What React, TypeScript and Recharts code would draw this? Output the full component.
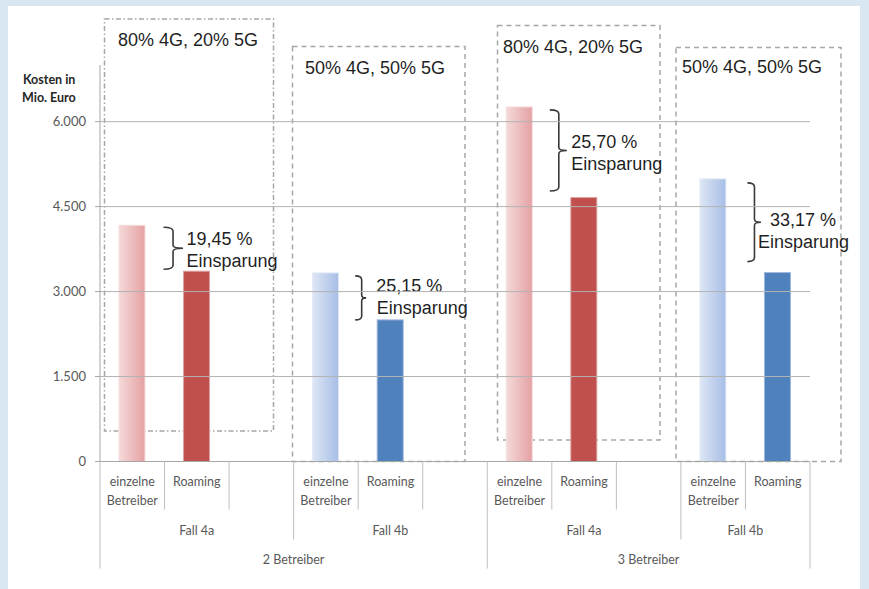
import { BarChart, Bar, XAxis, YAxis, ReferenceLine } from 'recharts';

// slot labels along the x axis (empty slots are spacers between cases)
const categories = [
  'einzelne Betreiber', 'Roaming', '',
  'einzelne Betreiber', 'Roaming', '',
  'einzelne Betreiber', 'Roaming', '',
  'einzelne Betreiber', 'Roaming',
];
// Kosten in Mio. Euro
const costs = [4170, 3360, null, 3330, 2500, null, 6260, 4660, null, 4990, 3335];
const savings = [null, '19,45 %', null, null, '25,15 %', null, null, '25,70 %', null, null, '33,17 %'];

const cases = ['Fall 4a', 'Fall 4b', 'Fall 4a', 'Fall 4b'];
const caseSizes = [3, 3, 3, 2];
const operators = ['2 Betreiber', '3 Betreiber'];
const operatorSizes = [6, 5];
const scenarios = ['80% 4G, 20% 5G', '50% 4G, 50% 5G', '80% 4G, 20% 5G', '50% 4G, 50% 5G'];
const yTicks = [0, 1500, 3000, 4500, 6000];

const W = 869;
const H = 589;
const PLOT_LEFT = 100;
const PLOT_RIGHT = 810;
const PLOT_TOP = 65;
const PLOT_BOTTOM = 461.5;
const X_AXIS_H = 110;
const SLOT = (PLOT_RIGHT - PLOT_LEFT) / categories.length;

const AXIS_FONT = 'Lato, "Open Sans", sans-serif';
const NOTE_FONT = '"Liberation Sans", Arial, sans-serif';

const starts = (sizes: number[]) => sizes.map((_, i) => sizes.slice(0, i).reduce((a, b) => a + b, 0));
const caseStarts = starts(caseSizes);
const operatorStarts = starts(operatorSizes);
const caseOf = (slot: number) => {
  let c = 0;
  caseStarts.forEach((s, i) => { if (slot >= s) c = i; });
  return c;
};

const data = categories.map((slot, i) => ({
  slot,
  idx: i,
  value: costs[i],
  saving: savings[i],
}));

// brace placement next to each Roaming bar (px, relative to the bar's left edge)
const braceLayout: Record<number, { left: number; vert: number; tip: number; topPad: number; botPad: number; t1: number; t2: number; dy: number }> = {
  1: { left: -20, vert: -10.5, tip: -0.5, topPad: 2, botPad: -2, t1: 3, t2: 3, dy: -10 },
  4: { left: -22, vert: -15.5, tip: -11, topPad: 3, botPad: 0, t1: -1, t2: -0.5, dy: -12.5 },
  7: { left: -21, vert: -12, tip: -4, topPad: 3, botPad: -6.5, t1: 0.5, t2: 0.5, dy: -8.5 },
  10: { left: -17, vert: -10, tip: -3.5, topPad: 4, botPad: -11, t1: 5.5, t2: -6.5, dy: -2.5 },
};

// scenario boxes (annotation frames drawn behind the chart)
const boxLayout = [
  { x1: 104.5, x2: 273.5, y1: 19, y2: 431, dash: '5 2.5 1.5 2.5', tx: 118, ty: 46 },
  { x1: 292.5, x2: 465, y1: 46.5, y2: 461.5, dash: '5 4', tx: 305, ty: 74 },
  { x1: 497.5, x2: 660, y1: 25.5, y2: 440, dash: '5 4', tx: 503, ty: 53 },
  { x1: 676, x2: 841, y1: 47.5, y2: 461.5, dash: '5 4', tx: 682, ty: 73 },
];

function CostBar(props: any) {
  const { x, y, width, height, payload } = props;
  if (payload == null || payload.value == null) return null;
  const i = payload.idx;
  const single = categories[i].startsWith('einzelne');
  const red = caseOf(i) % 2 === 0;
  const fill = single ? (red ? 'url(#gradRed)' : 'url(#gradBlue)') : red ? '#c0504d' : '#4f81bd';
  const stroke = single ? (red ? '#f5dede' : '#e3eaf6') : red ? '#dca3a2' : '#9db6dc';

  let brace = null;
  if (payload.saving && braceLayout[i]) {
    const b = braceLayout[i];
    const perUnit = height / payload.value;
    const prevTop = y + height - (costs[i - 1] as number) * perUnit;
    const yt = prevTop + b.topPad;
    const yb = y + b.botPad;
    const ym = (yt + yb) / 2;
    const x0 = x + b.left;
    const xv = x + b.vert;
    const xt = x + b.tip;
    const d = `M${x0},${yt} Q${xv},${yt} ${xv},${yt + 4} L${xv},${ym - 3} Q${xv},${ym} ${xt},${ym} Q${xv},${ym} ${xv},${ym + 3} L${xv},${yb - 4} Q${xv},${yb} ${x0},${yb}`;
    brace = (
      <g>
        <path d={d} fill="none" stroke="#3a3a3a" strokeWidth={1.6} />
        <text x={x + b.t1} y={ym + b.dy + 6.5} fontFamily={NOTE_FONT} fontSize={18} fill="#1f1f1f">
          {payload.saving}
        </text>
        <text x={x + b.t2} y={ym + b.dy + 28.5} fontFamily={NOTE_FONT} fontSize={18} fill="#1f1f1f">
          Einsparung
        </text>
      </g>
    );
  }

  return (
    <g>
      <rect x={x} y={y} width={width} height={height} fill={fill} stroke={stroke} strokeWidth={1} />
      {brace}
    </g>
  );
}

function SlotTick(props: any) {
  const { x, y, index } = props;
  const label: string = categories[index] ?? '';
  const left = x - SLOT / 2;
  const opIdx = operatorStarts.indexOf(index);
  const caseIdx = caseStarts.indexOf(index);
  const depth = opIdx >= 0 ? 107 : caseIdx >= 0 ? 78 : 48;
  const lines = label ? label.split(' ') : [];
  const isLast = index === categories.length - 1;
  return (
    <g>
      <line x1={left} x2={left} y1={y} y2={y + depth} stroke="#bfbfbf" strokeWidth={1} />
      {isLast && <line x1={left + SLOT} x2={left + SLOT} y1={y} y2={y + 107} stroke="#bfbfbf" strokeWidth={1} />}
      {lines.map((w, k) => (
        <text key={k} x={x} y={y + 24.5 + k * 18.5} textAnchor="middle" fontFamily={AXIS_FONT} fontSize={12.5} fill="#595959">
          {w}
        </text>
      ))}
      {caseIdx >= 0 && (
        <text x={left + (caseSizes[caseIdx] * SLOT) / 2} y={y + 73} textAnchor="middle" fontFamily={AXIS_FONT} fontSize={12.5} fill="#595959">
          {cases[caseIdx]}
        </text>
      )}
      {opIdx >= 0 && (
        <text x={left + (operatorSizes[opIdx] * SLOT) / 2} y={y + 102.5} textAnchor="middle" fontFamily={AXIS_FONT} fontSize={12.5} fill="#595959">
          {operators[opIdx]}
        </text>
      )}
    </g>
  );
}

const fmt = (v: number) => String(v).replace(/\B(?=(\d{3})+(?!\d))/g, '.');

export default function App() {
  return (
    <div style={{ position: 'absolute', left: 0, top: 0, width: W, height: H, background: '#d8e7f1', overflow: 'hidden' }}>
      <div style={{ position: 'absolute', left: 8, top: 6, width: 852, height: H - 6, background: '#ffffff' }} />
      <svg width={W} height={H} style={{ position: 'absolute', left: 0, top: 0 }}>
        {boxLayout.map((b, i) => (
          <g key={i}>
            <rect x={b.x1} y={b.y1} width={b.x2 - b.x1} height={b.y2 - b.y1} fill="none" stroke="#a6a6a6" strokeWidth={1.5} strokeDasharray={b.dash} />
            <text x={b.tx} y={b.ty} fontFamily={NOTE_FONT} fontSize={18} fill="#1f1f1f">
              {scenarios[i]}
            </text>
          </g>
        ))}
        <text x={23} y={83.5} fontFamily={AXIS_FONT} fontWeight={700} fontSize={12.5} fill="#262626">Kosten in</text>
        <text x={22} y={101.5} fontFamily={AXIS_FONT} fontWeight={700} fontSize={12.5} fill="#262626">Mio. Euro</text>
      </svg>
      <div style={{ position: 'absolute', left: 0, top: 0 }}>
        <BarChart
          width={W}
          height={H}
          data={data}
          margin={{ top: PLOT_TOP, right: W - PLOT_RIGHT, left: PLOT_LEFT - 60, bottom: H - PLOT_BOTTOM - X_AXIS_H }}
          barSize={26}
        >
          <defs>
            <linearGradient id="gradRed" x1="0" y1="0" x2="1" y2="0">
              <stop offset="0%" stopColor="#f4d9d9" />
              <stop offset="100%" stopColor="#e5a1a3" />
            </linearGradient>
            <linearGradient id="gradBlue" x1="0" y1="0" x2="1" y2="0">
              <stop offset="0%" stopColor="#dde6f4" />
              <stop offset="100%" stopColor="#a6bee6" />
            </linearGradient>
          </defs>
          {yTicks.slice(1).map((v) => (
            <ReferenceLine key={v} y={v} stroke="#b3b3b3" strokeWidth={1} />
          ))}
          <XAxis
            dataKey="slot"
            interval={0}
            height={X_AXIS_H}
            tickSize={0}
            tickMargin={0}
            tickLine={false}
            axisLine={{ stroke: '#a6a6a6' }}
            tick={SlotTick}
          />
          <YAxis
            width={60}
            domain={[0, 7000]}
            ticks={yTicks}
            tickFormatter={fmt}
            tickSize={5}
            tickMargin={9}
            axisLine={{ stroke: '#a6a6a6' }}
            tickLine={{ stroke: '#a6a6a6' }}
            tick={{ fill: '#595959', fontSize: 13, fontFamily: AXIS_FONT }}
          />
          <Bar dataKey="value" shape={CostBar} isAnimationActive={false} />
        </BarChart>
      </div>
    </div>
  );
}
